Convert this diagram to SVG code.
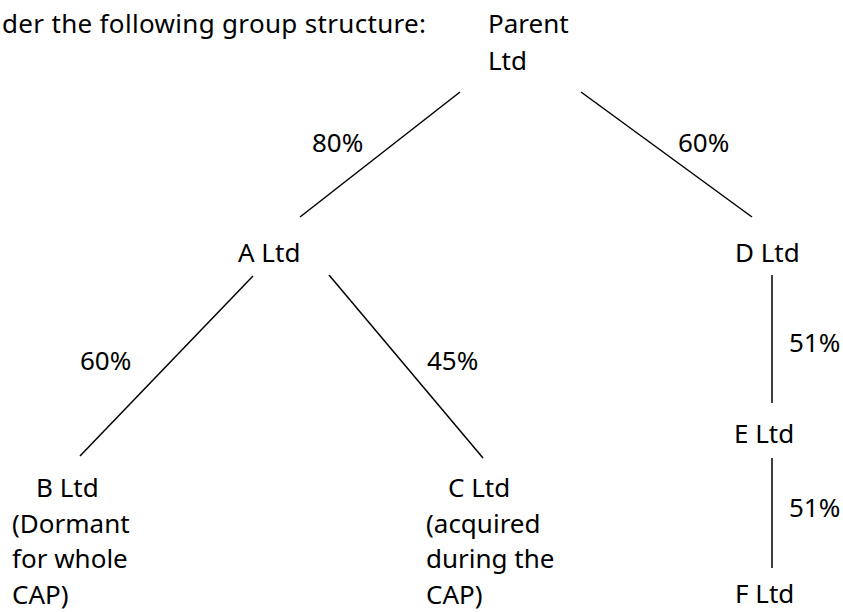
<svg xmlns="http://www.w3.org/2000/svg" width="843" height="612" viewBox="0 0 843 612">
<style>
text{font-family:"Comic Sans MS","Noto Sans","DejaVu Sans",sans-serif;font-size:26px;fill:#000}
.c line{stroke:#000;stroke-width:1.5}
</style>
<rect width="843" height="612" fill="#fff"/>
<text x="2" y="33" textLength="424" lengthAdjust="spacing">der the following group structure:</text>
<g id="parent"><text x="488" y="33">Parent</text><text x="488" y="70">Ltd</text></g>
<g id="a"><text x="238" y="262">A Ltd</text></g>
<g id="d"><text x="735" y="262">D Ltd</text></g>
<g id="b"><text x="36" y="497">B Ltd</text><text x="12" y="533">(Dormant</text><text x="12" y="568">for whole</text><text x="12" y="604">CAP)</text></g>
<g id="c"><text x="448" y="497">C Ltd</text><text x="426" y="533">(acquired</text><text x="426" y="568">during the</text><text x="426" y="604">CAP)</text></g>
<g id="e"><text x="734" y="443">E Ltd</text></g>
<g id="f"><text x="735" y="603">F Ltd</text></g>
<g class="c" id="connectors">
<line x1="460" y1="92" x2="300" y2="217"/>
<line x1="581" y1="92" x2="752" y2="217"/>
<line x1="253" y1="276" x2="80" y2="456"/>
<line x1="329" y1="275" x2="483" y2="458"/>
<line x1="772" y1="275" x2="772" y2="403"/>
<line x1="772" y1="458" x2="772" y2="568"/>
<text x="312" y="152">80%</text>
<text x="678" y="152">60%</text>
<text x="80" y="370">60%</text>
<text x="427" y="370">45%</text>
<text x="789" y="352">51%</text>
<text x="789" y="517">51%</text>
</g>
</svg>
